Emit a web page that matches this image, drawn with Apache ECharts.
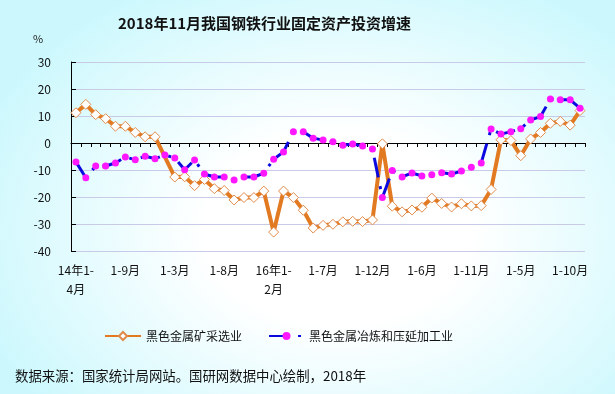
<!DOCTYPE html>
<html>
<head>
<meta charset="utf-8">
<script src="https://cdn.jsdelivr.net/npm/echarts@6/dist/echarts.min.js"></script>
<style>
html,body{margin:0;padding:0;}
body{width:615px;height:394px;background:radial-gradient(ellipse 62% 70% at 55% 58%, #ffffff 0%, #ffffff 35%, #ccf8fd 100%);}
#c{width:615px;height:394px;}
</style>
</head>
<body>
<div id="c"></div>
<script>
const categories = [
  '14年1-4月','1-5月','1-6月','1-7月','1-8月','1-9月','1-10月','1-11月','1-12月',
  '15年1-2月','1-3月','1-4月','1-5月','1-6月','1-7月','1-8月','1-9月','1-10月','1-11月','1-12月',
  '16年1-2月','1-3月','1-4月','1-5月','1-6月','1-7月','1-8月','1-9月','1-10月','1-11月','1-12月',
  '17年1-2月','1-3月','1-4月','1-5月','1-6月','1-7月','1-8月','1-9月','1-10月','1-11月','1-12月',
  '18年1-2月','1-3月','1-4月','1-5月','1-6月','1-7月','1-8月','1-9月','1-10月','1-11月'
];
const miningName = '黑色金属矿采选业';
const mining = [
  11.2,14.3,10.5,9.0,6.2,6.2,3.9,2.3,2.3,
  null,-12.6,-12.5,-15.8,-13.5,-16.9,-17.6,-21.1,-20.2,-20.2,-17.8,
  -33.0,-17.8,-20.2,-24.9,-31.5,-30.5,-30.1,-29.2,-29.0,-29.1,-28.5,
  -0.3,-23.4,-25.5,-24.8,-23.8,-20.4,-22.4,-23.7,-22.5,-23.3,-23.2,
  -17.2,1.2,0.9,-4.7,1.5,3.9,7.3,8.0,6.6,12.0
];
const smeltName = '黑色金属冶炼和压延加工业';
const smelt = [
  -7.0,-12.9,-8.5,-8.5,-7.4,-5.2,-6.2,-4.9,-5.8,
  -4.4,-5.6,-9.9,-6.3,-11.5,-12.6,-12.6,-13.7,-12.6,-12.6,-11.2,
  -6.0,-3.3,4.2,4.2,1.8,1.1,0.5,-0.8,-0.4,-1.1,-2.2,
  -20.2,-10.2,-12.6,-11.1,-12.2,-11.8,-11.0,-11.5,-10.4,-9.0,-7.4,
  5.2,3.3,4.2,5.3,8.5,9.8,16.3,16.0,16.0,12.9
];
const yMin = -40, yMax = 30, yStep = 10;
const titleText = '2018年11月我国钢铁行业固定资产投资增速';
const unitText = '%';
const sourceText = '数据来源：国家统计局网站。国研网数据中心绘制，2018年';

const FONT = '"Noto Sans CJK SC", "Noto Sans", sans-serif';
const chart = echarts.init(document.getElementById('c'), null, {renderer:'canvas'});
const legendText = {fontSize: 12, color: '#111', fontFamily: FONT};
chart.setOption({
  backgroundColor: 'transparent',
  animation: false,
  textStyle: {fontFamily: FONT},
  title: {
    text: titleText, left: 113, top: 11,
    textStyle: {fontSize: 15, fontWeight: 'bold', color: '#111', fontFamily: FONT}
  },
  graphic: [
    {type:'text', left: 33, top: 33, style:{text: unitText, fontSize: 11, fill:'#222', fontFamily: FONT}},
    {type:'text', left: 15, top: 369, style:{text: sourceText, fontSize: 13.4, fill:'#111', fontFamily: FONT}}
  ],
  legend: [
    {left: 104, top: 330, padding: 0, itemWidth: 36, itemHeight: 10, textStyle: legendText, data: [miningName]},
    {left: 268, top: 330, padding: 0, itemWidth: 35, itemHeight: 10, textStyle: legendText, data: [smeltName]}
  ],
  grid: {left: 71, right: 30, top: 62, bottom: 143, containLabel: false},
  xAxis: [
    {
      type: 'category', data: categories, position: 'top', boundaryGap: true,
      axisLine: {onZero: true, lineStyle: {color: '#000', width: 1}},
      axisTick: {show: true, inside: true, interval: 0, length: 4, lineStyle: {color:'#000'}},
      axisLabel: {show: false}, splitLine: {show: false}
    },
    {
      type: 'category', data: categories, position: 'bottom', boundaryGap: true,
      axisLine: {show: false}, axisTick: {show: false},
      axisLabel: {
        interval: 4, margin: 10, fontSize: 12, color: '#111', lineHeight: 19, fontFamily: FONT,
        formatter: function (v) { return v.replace(/^(\d+年1-)/, '$1\n'); }
      },
      splitLine: {show: false}
    }
  ],
  yAxis: {
    type: 'value', min: yMin, max: yMax, interval: yStep,
    axisLine: {show: true, onZero: false, lineStyle: {color: '#000', width: 1}},
    axisTick: {show: true, inside: true, length: 5, lineStyle: {color: '#000'}},
    axisLabel: {margin: 20, fontSize: 12, color: '#111', fontFamily: FONT},
    splitLine: {show: true, lineStyle: {color: '#c9c9e8', width: 1}}
  },
  series: [
    {
      name: miningName, type: 'line', xAxisIndex: 1, data: mining,
      connectNulls: true,
      symbol: 'diamond', symbolSize: 10, showAllSymbol: true,
      lineStyle: {color: '#e27a22', width: 4},
      itemStyle: {color: '#ffffff', borderColor: '#e08a4a', borderWidth: 1},
      z: 2
    },
    {
      name: smeltName, type: 'line', xAxisIndex: 1, data: smelt,
      symbol: 'circle', symbolSize: 7, showAllSymbol: true,
      lineStyle: {color: '#0a0ae0', width: 3, type: [20, 9, 3, 9]},
      itemStyle: {color: '#ff18ff', borderWidth: 0},
      z: 3
    }
  ]
});
</script>
</body>
</html>
